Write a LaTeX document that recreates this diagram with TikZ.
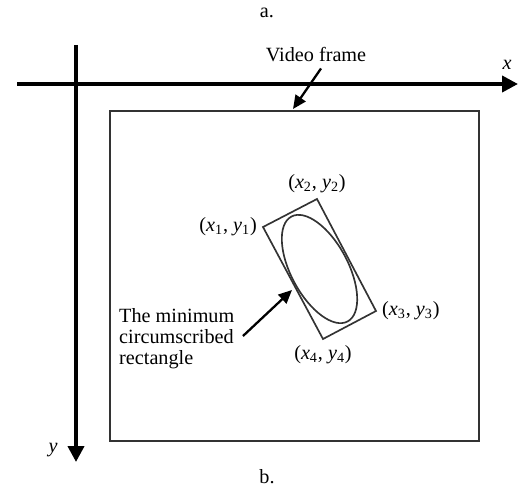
\documentclass[tikz,border=0pt]{standalone}
\usepackage{fontspec}
\setmainfont{Liberation Serif}
\usepackage{tikz}
\usetikzlibrary{positioning,arrows.meta,calc}

\newcommand{\cornerlab}[1]{(\textit{x}\textsubscript{#1}, \textit{y}\textsubscript{#1})}

\begin{document}
\begin{tikzpicture}[font=\fontsize{11.5}{12}\selectfont,
  axis/.style={line width=2.2pt, -{Triangle[length=0.32cm, width=0.32cm]}},
  pointer/.style={line width=1.3pt, -{Triangle[length=0.27cm, width=0.24cm]}},
  outline/.style={line width=0.95pt, black!80}]
  \useasboundingbox (0,0) rectangle (10.52,9.78);

  % captions
  \node (capa) at (5.34,9.52) {a.};
  \node (capb) at (5.34,0.24) {b.};

  % axes
  \coordinate (xs) at (0.34,8.10);
  \coordinate (xe) at (10.36,8.10);
  \coordinate (ys) at (1.52,8.88);
  \coordinate (ye) at (1.52,0.54);
  \draw[axis] (xs) -- (xe);
  \draw[axis] (ys) -- (ye);
  \node[font=\fontsize{11.5}{12}\itshape] (xl) at (10.14,8.48) {x};
  \node[font=\fontsize{11.5}{12}\itshape] (yl) at (1.06,0.78) {y};

  % video frame
  \draw[outline] (2.20,0.96) rectangle (9.58,7.56);
  \node (vf) at (6.32,8.68) {Video frame};
  \coordinate (vftip) at (5.86,7.60);
  \draw[pointer] ([xshift=0.1cm]vf.south) -- (vftip);

  % rotated rectangle and ellipse
  \coordinate (p1) at (5.26,5.24);
  \coordinate (p2) at (6.34,5.80);
  \coordinate (p3) at (7.52,3.56);
  \coordinate (p4) at (6.46,3.00);
  \coordinate (c) at (6.39,4.40);
  \draw[outline] (p1) -- (p2) -- (p3) -- (p4) -- cycle;
  \draw[outline, rotate around={-61.8:(c)}] (c) ellipse (1.19 and 0.57);

  \node[left] (l1) at (p1) {\cornerlab{1}};
  \node[above] (l2) at (p2) {\cornerlab{2}};
  \node[right] (l3) at (p3) {\cornerlab{3}};
  \node[below] (l4) at (p4) {\cornerlab{4}};

  % annotation
  \node[anchor=west, align=left] (mr) at (2.26,3.00) {The minimum\\circumscribed\\rectangle};
  \coordinate (rtip) at (5.84,3.98);
  \draw[pointer] ([xshift=0.05cm, yshift=0.06cm]mr.east) -- (rtip);
\end{tikzpicture}
\end{document}
